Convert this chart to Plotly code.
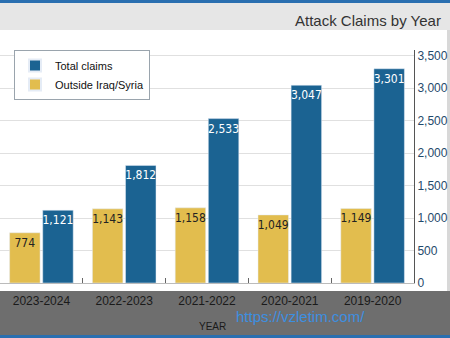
import plotly.graph_objects as go

categories = ["2023-2024", "2022-2023", "2021-2022", "2020-2021", "2019-2020"]
total_claims = [1121, 1812, 2533, 3047, 3301]
outside = [774, 1143, 1158, 1049, 1149]

BLUE = "#1b6392"
YELLOW = "#e2bd4e"
NARROW = "Liberation Sans Narrow, DejaVu Sans Condensed, Liberation Sans"

W, H = 450, 338
L, R, T, B = 0, 36, 50, 55
pw, ph = W - L - R, H - T - B

def px(x):
    return (x - L) / pw

def py(y):
    return (H - B - y) / ph

fig = go.Figure()
fig.add_trace(go.Bar(
    x=categories, y=outside, name="Outside Iraq/Syria", marker_color=YELLOW,
    text=[f"{v:,}" for v in outside], textposition="inside", insidetextanchor="end",
    textangle=0, constraintext="none",
    textfont=dict(color="#222", size=12, family=NARROW),
))
fig.add_trace(go.Bar(
    x=categories, y=total_claims, name="Total claims", marker_color=BLUE,
    text=[f"{v:,}" for v in total_claims], textposition="inside", insidetextanchor="end",
    textangle=0, constraintext="none",
    textfont=dict(color="white", size=12, family=NARROW),
))

shapes = [
    dict(type="rect", xref="paper", yref="paper", x0=px(0), x1=px(W), y0=py(0), y1=py(30),
         fillcolor="#e6e6e6", line_width=0, layer="below"),
    dict(type="rect", xref="paper", yref="paper", x0=px(0), x1=px(W), y0=py(0), y1=py(3),
         fillcolor="#2a6fb0", line_width=0, layer="below"),
    dict(type="rect", xref="paper", yref="paper", x0=px(0), x1=px(W), y0=py(291), y1=py(336),
         fillcolor="#6e6e6e", line_width=0, layer="below"),
    dict(type="rect", xref="paper", yref="paper", x0=px(0), x1=px(W), y0=py(335), y1=py(338),
         fillcolor="#2a6fb0", line_width=0, layer="below"),
    dict(type="rect", xref="paper", yref="paper", x0=px(447), x1=px(W), y0=py(30), y1=py(291),
         fillcolor="#d8d8d8", line_width=0, layer="below"),
]

fig.update_layout(
    width=W, height=H, margin=dict(l=L, r=R, t=T, b=B),
    paper_bgcolor="white", plot_bgcolor="white",
    barmode="group", bargap=0.2, bargroupgap=0.08,
    font=dict(family="Liberation Sans", color="#222"),
    shapes=shapes,
    showlegend=True,
    legend=dict(x=px(14), y=py(50), xanchor="left", yanchor="top",
                bgcolor="white", bordercolor="#9aa4ad", borderwidth=1,
                traceorder="reversed", font=dict(size=11, color="#111"),
                itemsizing="constant", tracegroupgap=0),
    annotations=[
        dict(text="Attack Claims by Year", xref="paper", yref="paper",
             x=px(443), y=py(20), xanchor="right", yanchor="middle", showarrow=False,
             font=dict(size=15, color="#333")),
        dict(text="https://vzletim.com/", xref="paper", yref="paper",
             x=px(300), y=py(316), xanchor="center", yanchor="middle", showarrow=False,
             font=dict(size=15, color="#3d8fe0")),
        dict(text="YEAR", xref="paper", yref="paper",
             x=px(212), y=py(326), xanchor="center", yanchor="middle", showarrow=False,
             font=dict(size=10, color="#1a1a1a")),
    ],
    xaxis=dict(
        showgrid=False, showline=True, linecolor="#bbbbbb", linewidth=1,
        ticks="inside", ticklen=5, tickcolor="#666", tickson="boundaries",
        tickfont=dict(size=12, color="#1a1a1a"), ticklabelstandoff=7,
    ),
    yaxis=dict(
        side="right", range=[0, 3590], tickvals=[0, 500, 1000, 1500, 2000, 2500, 3000, 3500],
        tickformat=",", showgrid=True, gridcolor="#e0e0e0", gridwidth=1,
        showline=True, linecolor="#555", linewidth=1, ticks="",
        tickfont=dict(size=12, color="#1f4a6b"), zeroline=False,
    ),
)

fig.write_html("out.html")
